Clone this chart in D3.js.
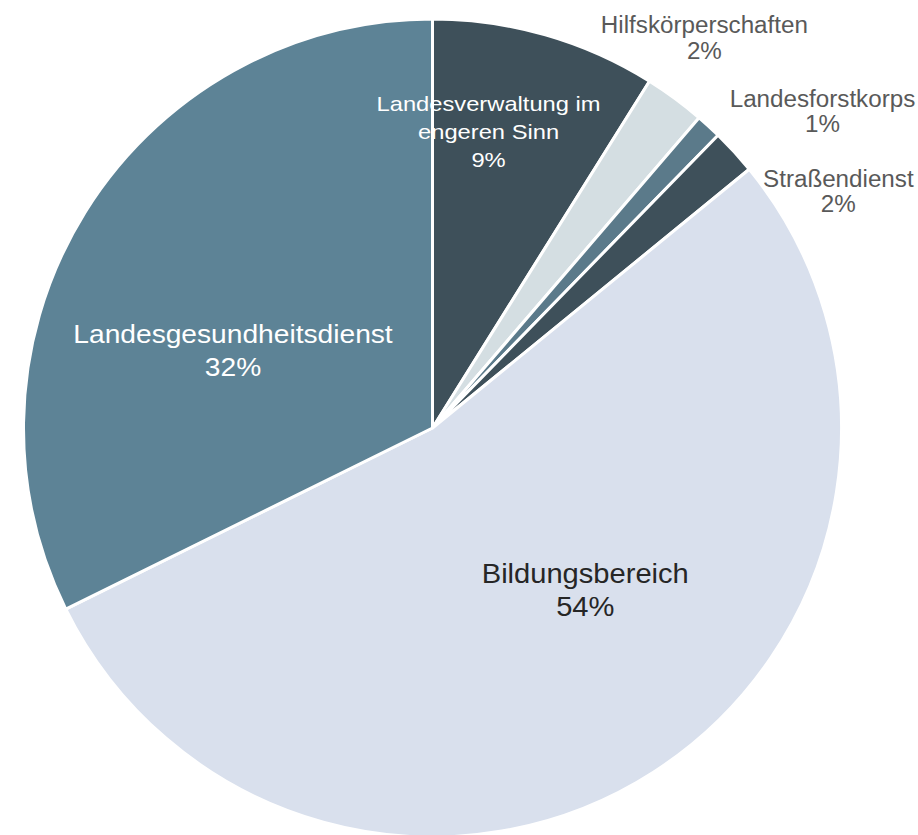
<!DOCTYPE html>
<html>
<head>
<meta charset="utf-8">
<script src="https://cdn.jsdelivr.net/npm/d3@7"></script>
<style>
  body { margin: 0; background: #fff; }
  svg text { font-family: "Liberation Sans", Arial, sans-serif; }
</style>
</head>
<body>
<svg id="pie" width="918" height="835"></svg>
<script>
// Slice data, clockwise from 12 o'clock
const categories = ["Landesverwaltung im engeren Sinn", "Hilfskörperschaften", "Landesforstkorps",
                    "Straßendienst", "Bildungsbereich", "Landesgesundheitsdienst"];
const shares = [8.9, 2.4, 1.0, 1.8, 53.6, 32.3];
const labelLines = [["Landesverwaltung im", "engeren Sinn"], ["Hilfskörperschaften"], ["Landesforstkorps"],
                    ["Straßendienst"], ["Bildungsbereich"], ["Landesgesundheitsdienst"]];
const colors = ["#3e505a", "#d4dee2", "#5b7a8a", "#3e505a", "#d9e0ed", "#5d8396"];

const svg = d3.select("svg#pie");
const cx = 432.5, cy = 428, radius = 409;

const g = svg.append("g").attr("transform", "translate(" + cx + "," + cy + ")");

const pie = d3.pie().sort(null).value(d => d)(shares);
const arc = d3.arc().innerRadius(0).outerRadius(radius);

g.selectAll("path")
  .data(pie)
  .enter()
  .append("path")
  .attr("d", arc)
  .style("fill", (d, i) => colors[i])
  .style("stroke", "#fff")
  .style("stroke-width", 3)
  .style("stroke-linejoin", "round");

// label placement: radius factor, angle shift from slice middle (deg),
// font size, horizontal stretch, line height, colour
const labelStyle = [
  { r: 0.737, da: -5.3,  size: 21,   sx: 1.13, lh: 28, fill: "#ffffff" },
  { r: 1.163, da: -1.5,  size: 23.5, sx: 1.03, lh: 26, fill: "#595959" },
  { r: 1.229, da: 8.4,   size: 23.5, sx: 1.03, lh: 25, fill: "#595959" },
  { r: 1.149, da: 12.2,  size: 23.5, sx: 1.03, lh: 25, fill: "#595959" },
  { r: 0.544, da: -10.6, size: 28,   sx: 1.04, lh: 33, fill: "#262626" },
  { r: 0.523, da: -10.7, size: 25.6, sx: 1.1,  lh: 33, fill: "#ffffff" }
];

pie.forEach(function(d, i) {
  const s = labelStyle[i];
  const a = (d.startAngle + d.endAngle) / 2 + s.da * Math.PI / 180;
  const x = Math.sin(a) * radius * s.r;
  const y = -Math.cos(a) * radius * s.r;
  const lines = labelLines[i].concat([Math.round(d.data) + "%"]);
  const t = g.append("text")
    .attr("transform", "translate(" + x + "," + y + ") scale(" + s.sx + ",1)")
    .attr("text-anchor", "middle")
    .style("font-size", s.size + "px")
    .style("fill", s.fill);
  lines.forEach(function(line, k) {
    t.append("tspan")
      .attr("x", 0)
      .attr("y", (k - (lines.length - 1) / 2) * s.lh + s.size * 0.35)
      .text(line);
  });
});
</script>
</body>
</html>
